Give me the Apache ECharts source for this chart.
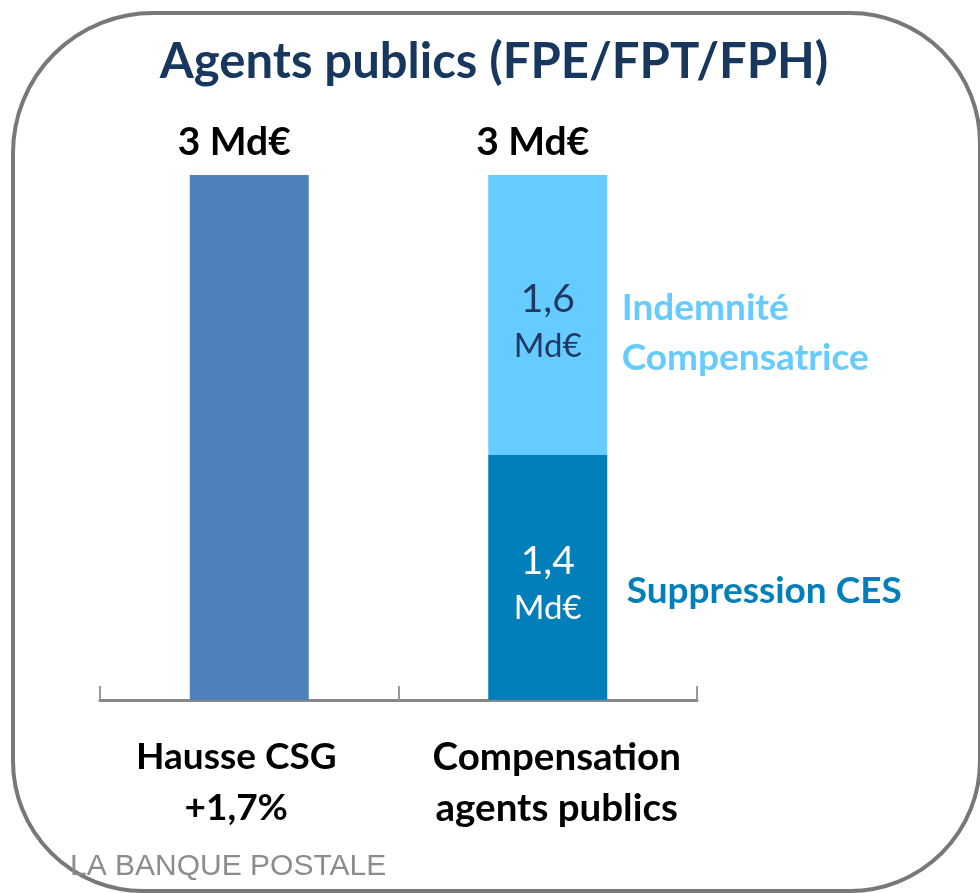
<!DOCTYPE html>
<html>
<head>
<meta charset="utf-8">
<script src="https://cdn.jsdelivr.net/npm/echarts@6/dist/echarts.min.js"></script>
<style>
  html, body { margin: 0; padding: 0; background: #fff; }
  #chart { width: 980px; height: 893px; }
</style>
</head>
<body>
<div id="chart"></div>
<script>
// données
const categories = ["Hausse CSG\n+1,7%", "Compensation\nagents publics"];
const hausseCsg = [3, "-"];
const suppressionCes = ["-", 1.4];
const indemnite = ["-", 1.6];
const totals = [3, 3];
const segmentNames = ["Suppression CES", "Indemnité\nCompensatrice"];

const FONT = "Lato";
const fmt = (v) => String(v).replace(".", ",");

const chart = echarts.init(document.getElementById("chart"));

function innerLabel(color) {
  return {
    show: true,
    position: "inside",
    offset: [0, 6],
    formatter: (p) => "{v|" + fmt(p.value) + "}\n{u|Md€}",
    rich: {
      v: { fontFamily: FONT, fontSize: 39, color: color, lineHeight: 50 },
      u: { fontFamily: FONT, fontSize: 33, color: color, lineHeight: 44 },
    },
  };
}

const catStyle = {
  fontFamily: FONT,
  fontWeight: "bold",
  fontSize: 37,
  lineHeight: 51,
  color: "#000",
};

const option = {
  animation: false,
  backgroundColor: "#fff",
  grid: { left: 100, right: 283, top: 175, bottom: 193 },
  xAxis: {
    type: "category",
    data: categories,
    axisLine: { lineStyle: { color: "#888", width: 3 } },
    axisTick: { show: true, interval: 0, inside: true, length: 14, lineStyle: { color: "#999", width: 2 } },
    axisLabel: {
      interval: 0,
      margin: 32,
      formatter: (v, i) =>
        v.split("\n").map((l) => "{c" + i + "|" + l + "}").join("\n"),
      rich: {
        c0: Object.assign({ padding: [0, 26, 0, 0] }, catStyle),
        c1: Object.assign({ padding: [0, 0, 0, 18], fontSize: 38.5 }, catStyle, { fontSize: 38.5 }),
      },
    },
  },
  yAxis: { type: "value", min: 0, max: 3, show: false },
  series: [
    {
      name: "Hausse CSG",
      type: "bar",
      stack: "total",
      barWidth: 119,
      data: hausseCsg,
      itemStyle: { color: "#4f81bd" },
    },
    {
      name: segmentNames[0],
      type: "bar",
      stack: "total",
      barWidth: 119,
      data: suppressionCes,
      itemStyle: { color: "#007fbb" },
      label: innerLabel("#fff"),
    },
    {
      name: segmentNames[1],
      type: "bar",
      stack: "total",
      barWidth: 119,
      data: indemnite,
      itemStyle: { color: "#66ccff" },
      label: innerLabel("#1f3864"),
    },
    {
      // pile vide, sert seulement au total au-dessus
      name: "Total",
      type: "bar",
      stack: "total",
      barWidth: 119,
      data: totals.map(() => 0),
      itemStyle: { color: "transparent" },
      label: {
        show: true,
        position: "top",
        distance: 13,
        offset: [-15, 0],
        formatter: (p) => totals[p.dataIndex] + " Md€",
        fontFamily: FONT,
        fontWeight: "bold",
        fontSize: 39,
        color: "#000",
      },
    },
  ],
};
chart.setOption(option);

// noms des segments à droite de la barre empilée
const [x1, yCes] = chart.convertToPixel({ seriesIndex: 0 }, [1, suppressionCes[1] / 2]);
const [, yInd] = chart.convertToPixel({ seriesIndex: 0 }, [1, suppressionCes[1] + indemnite[1] / 2]);

chart.setOption({
  graphic: [
    {
      type: "rect",
      shape: { x: 13, y: 13, width: 967, height: 878, r: [140, 130, 130, 130] },
      style: { fill: null, stroke: "#787878", lineWidth: 4 },
      silent: true,
      z: -1,
    },
    {
      type: "text",
      x: 494,
      y: 62,
      style: {
        text: "Agents publics (FPE/FPT/FPH)",
        font: "bold 49px " + FONT,
        fill: "#17375e",
        align: "center",
        verticalAlign: "middle",
      },
    },
    {
      type: "text",
      x: x1 + 74,
      y: yInd + 18,
      style: {
        text: segmentNames[1],
        font: "bold 37px " + FONT,
        lineHeight: 50,
        fill: "#66ccff",
        verticalAlign: "middle",
      },
    },
    {
      type: "text",
      x: x1 + 79,
      y: yCes + 14,
      style: {
        text: segmentNames[0],
        font: "bold 37px " + FONT,
        fill: "#007fbb",
        verticalAlign: "middle",
      },
    },
    {
      type: "text",
      x: 70,
      y: 867,
      style: {
        text: "LA BANQUE POSTALE",
        font: "30px 'Liberation Sans'",
        fill: "#8c8c8c",
        verticalAlign: "middle",
      },
    },
  ],
});
</script>
</body>
</html>
